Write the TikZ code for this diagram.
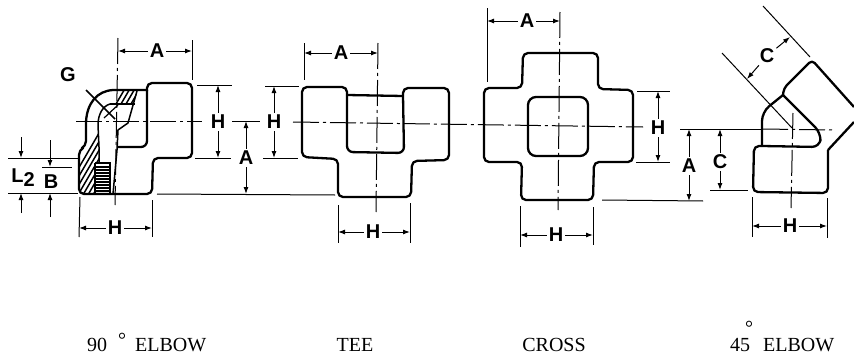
\documentclass[tikz,border=0pt]{standalone}
\usepackage{fontspec}
\setmainfont{Liberation Sans}
\newfontfamily\capfont{Liberation Serif}
\usetikzlibrary{arrows.meta}

\tikzset{
  outline/.style={line width=2.3pt,line join=round},
  thin line/.style={line width=1pt},
  centre/.style={line width=1pt,dash pattern=on 26pt off 4pt on 3pt off 4pt},
  dim/.style={line width=1pt,-{Latex[length=7pt,width=5pt]}},
  dimlabel/.style={inner sep=2pt,font=\bfseries\fontsize{20}{20}\selectfont},
  caption/.style={inner sep=0pt,font=\capfont\fontsize{20}{20}\selectfont}
}

\begin{document}
\begin{tikzpicture}[x=1pt,y=-1pt]
\useasboundingbox (0,0) rectangle (854,356);

% Centre lines
\draw [centre] (76,121) -- (202,121);
\draw [centre] (118,38) -- (115,205);
\draw [centre] (293,122) -- (643,127);
\draw [centre] (378,43) -- (376,212);
\draw [centre] (560,12) -- (558,210);
\draw [thin line] (680,129) -- (762,129);
\draw [centre] (762,129) -- (833,130);
\draw [centre] (793,113) -- (791,208);

% Outlines of the 90 degree elbow
\draw [outline,rounded corners=5pt] (147,91) -- (147,83) -- (192,83) -- (192,158) -- (153,158)
  -- (152,194) -- (79,194) -- (79,150) -- (86,146) -- (86,122);
\draw [outline] (86,122) .. controls (87,103) and (97,91) .. (113,90) -- (147,90);
\draw [outline,rounded corners=6pt] (147,90) -- (147,147) -- (118,147);

% The cut part of the elbow
\begin{scope}
  \clip (86,122) .. controls (87,103) and (97,91) .. (113,90) -- (137,91) -- (135,104) -- (110,104)
    .. controls (103,106) and (98,114) .. (98,125) -- (99,147) -- (99,162) -- (95,163) -- (95,193)
    -- (83,194) -- (79,190) -- (79,152) -- (86,147) -- cycle;
  \foreach \s in {0,5,...,140} {
    \draw [line width=1.5pt] (60+\s,200) -- (130+\s,80);
  }
\end{scope}
\draw [line width=1.5pt] (110,104) .. controls (103,106) and (98,114) .. (98,125) -- (99,147) -- (99,162);
\draw [line width=1.5pt] (110,104) -- (135,104);
\draw [line width=1.5pt] (137,91) -- (128,123) -- (118,130) -- (117,150) -- (113,194);
\draw [line width=1.5pt] (95,163) -- (110,163) -- (110,193);
\draw [line width=1.5pt] (95,163) -- (95,193);
\foreach \y in {167,170,...,191} {
  \draw [line width=1.4pt] (95,\y) -- (110,\y);
}
\draw [line width=1.6pt] (86,90) -- (115,119);
\draw [line width=1.2pt] (104,118) -- (118,105);

% Outlines of the tee
\draw [outline,rounded corners=5pt] (347,95) -- (347,87) -- (302,87) -- (302,157) -- (338,159)
  -- (338,197) -- (411,197) -- (412,161) -- (449,160) -- (449,88) -- (403,88) -- (403,95);
\draw [outline] (347,95) -- (403,96);
\draw [outline,rounded corners=6pt] (347,95) -- (347,152) -- (404,153) -- (403,95);

% Outlines of the cross
\draw [outline,rounded corners=5pt] (484,88) -- (522,88) -- (523,53) -- (598,53) -- (598,89)
  -- (633,90) -- (633,162) -- (594,162) -- (593,200) -- (521,200) -- (522,162) -- (484,162) -- cycle;
\draw [outline,rounded corners=8pt] (528,97) -- (588,97) -- (588,156) -- (528,156) -- cycle;

% Outlines of the 45 degree elbow
\draw [outline,rounded corners=5pt] (762,146) -- (754,146) -- (753,192) -- (828,193) -- (828,150);
\draw [outline] (828,150) -- (854,122);
\draw [outline,rounded corners=4pt] (854,107) -- (812,60) -- (784,88) -- (783,95);
\draw [outline,rounded corners=8pt] (783,95) -- (821,133) -- (820,147) -- (762,146);
\draw [outline,rounded corners=9pt] (762,146) -- (762,112) -- (783,95);

% Extension lines
\foreach \xa/\ya/\xb/\yb in {
  192/40/192/80, 197/85/232/85, 195/158/231/158, 232/121/260/121, 157/194/335/195,
  80/197/79/237, 152/200/152/237, 8/158/78/158, 42/167/72/167, 8/193/78/193,
  304/43/304/80, 265/86/299/86, 263/158/298/158, 338/205/338/243, 410/203/410/243,
  487/8/487/82, 637/91/670/91, 636/162/670/162, 520/206/520/247, 593/207/593/245,
  602/200/703/201, 710/190/748/190, 752/197/752/237, 827/198/827/238,
  722/53/792/128, 763/6/810/57} {
  \draw [thin line] (\xa,\ya) -- (\xb,\yb);
}

% Horizontal dimensions
\foreach \name/\lab/\xa/\xl/\xb/\y in {
  aelbow/A/118/157/192/51, helbow/H/79/115/152/228,
  atee/A/304/341/378/53, htee/H/338/373/410/232,
  across/A/487/527/560/21, hcross/H/520/556/593/235,
  hforty/H/752/790/827/226} {
  \node [dimlabel] (\name) at (\xl,\y) {\lab};
  \coordinate (\name a) at (\xa,\y);
  \coordinate (\name b) at (\xb,\y);
  \draw [dim] (\name) -- (\name a);
  \draw [dim] (\name) -- (\name b);
}

% Vertical dimensions
\foreach \name/\lab/\x/\ya/\yl/\yb in {
  helbowv/H/218/85/122/158, aelbowv/A/246/121/158/194,
  hteev/H/274/86/122/158,
  hcrossv/H/658/91/128/162,
  aforty/A/689/129/166/201, cforty/C/720/129/162/190} {
  \node [dimlabel] (\name) at (\x,\yl) {\lab};
  \coordinate (\name a) at (\x,\ya);
  \coordinate (\name b) at (\x,\yb);
  \draw [dim] (\name) -- (\name a);
  \draw [dim] (\name) -- (\name b);
}

% Dimension of the slanted end
\node [dimlabel] (cslant) at (767,56) {C};
\coordinate (cslanta) at (747,79);
\coordinate (cslantb) at (790,37);
\draw [dim] (cslant) -- (cslanta);
\draw [dim] (cslant) -- (cslantb);

% L2 and B, with the arrows coming from outside
\node [dimlabel] (g) at (68,75) {G};
\node [dimlabel] (ltwo) at (23,178) {L\raisebox{-4pt}{2}};
\node [dimlabel] (b) at (51,182) {B};
\foreach \x/\ya/\yb in {21/137/158, 21/213/193, 50/140/167, 50/217/193} {
  \draw [dim] (\x,\ya) -- (\x,\yb);
}

% Captions
\node [caption,anchor=base west] (cap90) at (87,351) {90};
\node [caption,anchor=base west] (deg90) at (118,346) {°};
\node [caption,anchor=base west] (elbow90) at (135,351) {ELBOW};
\node [caption,anchor=base] (captee) at (355,351) {TEE};
\node [caption,anchor=base] (capcross) at (554,351) {CROSS};
\node [caption,anchor=base west] (cap45) at (730,351) {45};
\node [caption,anchor=base west] (deg45) at (745,334) {°};
\node [caption,anchor=base west] (elbow45) at (763,351) {ELBOW};
\end{tikzpicture}
\end{document}
